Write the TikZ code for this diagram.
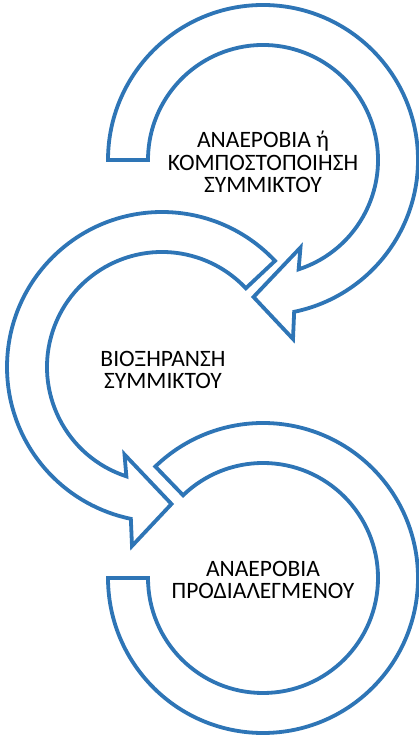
\documentclass[tikz,border=0pt]{standalone}
\usepackage{fontspec}
\setmainfont{Carlito}
\definecolor{ringblue}{RGB}{46,117,182}

\begin{document}
\begin{tikzpicture}[x=1pt,y=1pt,
    band/.style={draw=ringblue,line width=3.8pt,fill=white},
    lbl/.style={align=center,font=\fontsize{23.5}{22.5}\selectfont}]
  \useasboundingbox (0,0) rectangle (419,735);

%% rings: outer radius 155, inner radius 115, arrow head at the end
  \draw[band,shift={(263,575)}] (180:155) arc[start angle=180,end angle=-78.4,radius=155]
    -- (30,-179) -- (-9.5,-137) -- (37.5,-87.5)
    -- (-71.95:115) arc[start angle=-71.95,end angle=180,radius=115] -- cycle;
  \draw[band,shift={(162,368)}] (43.2:155) arc[start angle=43.2,end angle=258.4,radius=155]
    -- (-30,-179) -- (9.5,-137) -- (-37.5,-87.5)
    -- (251.95:115) arc[start angle=251.95,end angle=43.2,radius=115] -- cycle;
  \draw[band,shift={(263,157)}] (134:155) arc[start angle=134,end angle=-180,radius=155]
    -- (-180:115) arc[start angle=-180,end angle=134,radius=115] -- cycle;

  \node[lbl] (TOP) at (263,573) {ΑΝΑΕΡΟΒΙΑ ή\\ΚΟΜΠΟΣΤΟΠΟΙΗΣΗ\\ΣΥΜΜΙΚΤΟΥ};
  \node[lbl] (MID) at (163,365) {ΒΙΟΞΗΡΑΝΣΗ\\ΣΥΜΜΙΚΤΟΥ};
  \node[lbl] (BOT) at (263,155) {ΑΝΑΕΡΟΒΙΑ\\ΠΡΟΔΙΑΛΕΓΜΕΝΟΥ};

\end{tikzpicture}
\end{document}
